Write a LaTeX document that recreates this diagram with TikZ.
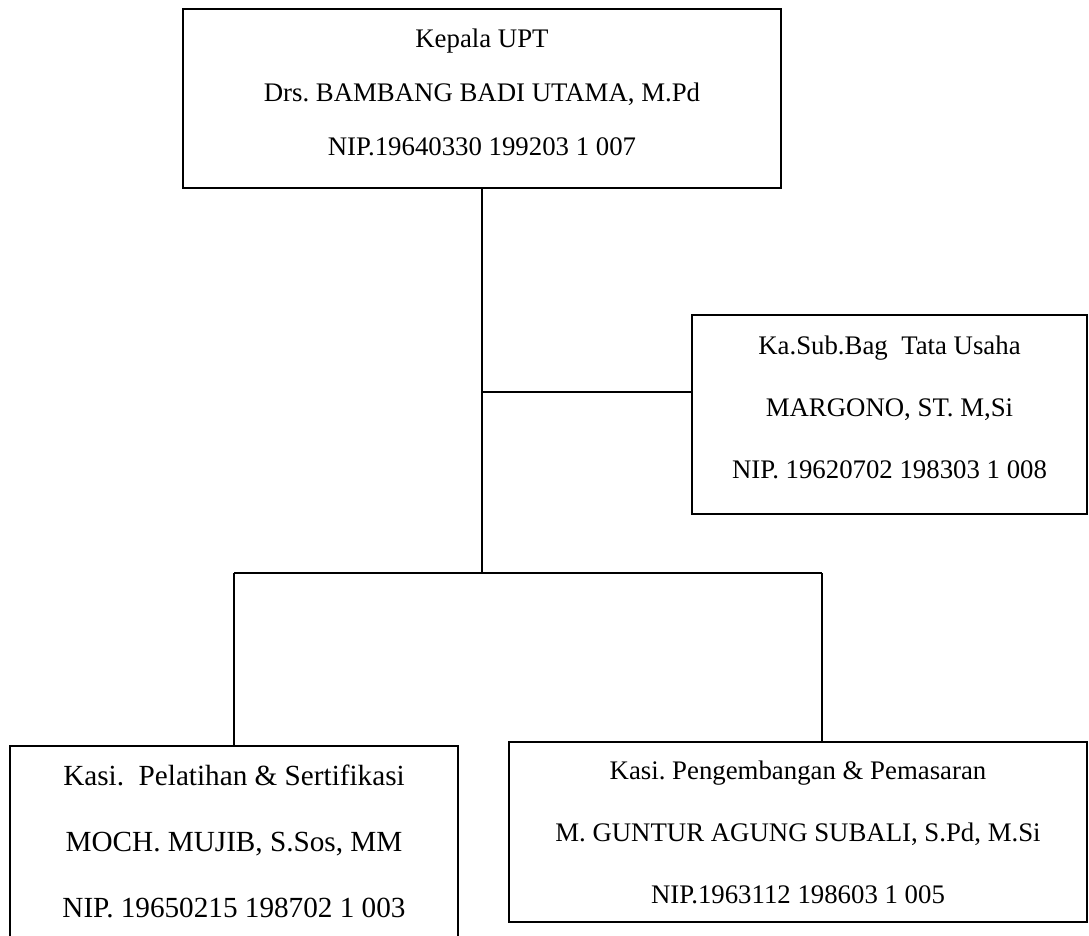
\documentclass[tikz,border=0pt]{standalone}
\usepackage{fontspec}
\setmainfont{Liberation Serif}
\usetikzlibrary{positioning}
\frenchspacing

\begin{document}
\begin{tikzpicture}[x=1pt, y=-1pt,
    box/.style={draw, line width=1.6pt, inner sep=0pt},
    teks/.style={align=center, inner sep=0pt},
    jabatan/.style={font=\fontsize{26.8}{#1}\selectfont},
    garis/.style={line width=1.3pt}
]
    \useasboundingbox (0,0) rectangle (1089,935);

    % kotak jabatan
    \node[box, minimum width=598pt, minimum height=179pt] (kepala) at (482,98.5) {};
    \node[box, minimum width=395pt, minimum height=199pt] (tu) at (889.5,414.5) {};
    \node[box, minimum width=448pt, minimum height=210pt] (pelatihan) at (234,851) {};
    \node[box, minimum width=578pt, minimum height=180pt] (pengembangan) at (798,832) {};

    % isi kotak
    \node[teks, jabatan=54, yshift=6pt] (kepala teks) at (kepala.center)
        {Kepala UPT\\Drs. BAMBANG BADI UTAMA, M.Pd\\NIP.19640330 199203 1 007};
    \node[teks, jabatan=62, yshift=7pt] (tu teks) at (tu.center)
        {Ka.Sub.Bag\ \ Tata Usaha\\MARGONO, ST. M,Si\\NIP. 19620702 198303 1 008};
    \node[teks, font=\fontsize{29.2}{66}\selectfont, yshift=10pt] (pelatihan teks) at (pelatihan.center)
        {Kasi.\ \ Pelatihan \& Sertifikasi\\MOCH. MUJIB, S.Sos, MM\\NIP. 19650215 198702 1 003};
    \node[teks, jabatan=62] (pengembangan teks) at (pengembangan.center)
        {Kasi. Pengembangan \& Pemasaran\\M. GUNTUR AGUNG SUBALI, S.Pd, M.Si\\NIP.1963112 198603 1 005};

    % titik cabang
    \coordinate (cabang tu) at (482,392);
    \coordinate (cabang bawah) at (482,573);
    \coordinate (ujung kiri) at (234,573);
    \coordinate (ujung kanan) at (822,573);

    \draw[garis] (kepala.south) -- (cabang bawah);
    \draw[garis] (cabang tu) -- (cabang tu -| tu.west);
    \draw[garis] (ujung kiri) -- (ujung kanan);
    \draw[garis] (ujung kiri) -- (pelatihan.north);
    \draw[garis] (ujung kanan) -- (ujung kanan |- pengembangan.north);
\end{tikzpicture}
\end{document}
